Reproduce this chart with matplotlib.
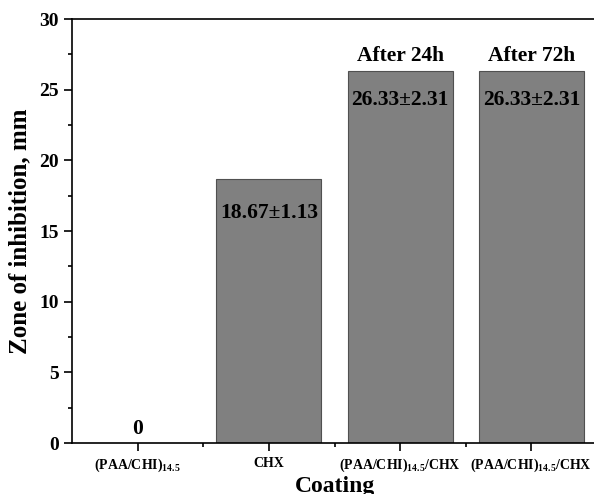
import matplotlib.pyplot as plt
import numpy as np

plt.rcParams['font.family'] = 'Liberation Serif'
plt.rcParams['font.weight'] = 'bold'
plt.rcParams['mathtext.fontset'] = 'custom'
plt.rcParams['mathtext.rm'] = 'Liberation Serif:bold'
plt.rcParams['mathtext.it'] = 'Liberation Serif:bold'
plt.rcParams['mathtext.bf'] = 'Liberation Serif:bold'

# Data
categories = [r'(PAA/CHI)$_{14.5}$', 'CHX',
              r'(PAA/CHI)$_{14.5}$/CHX', r'(PAA/CHI)$_{14.5}$/CHX']
values = [0, 18.67, 26.33, 26.33]
value_labels = ['0', '18.67\u00b11.13', '26.33\u00b12.31', '26.33\u00b12.31']
headers = ['', '', 'After 24h', 'After 72h']

fig = plt.figure(figsize=(5.94, 4.94), dpi=100)
ax = fig.add_axes([72 / 594, 51 / 494, 525 / 594, 424 / 494])

x = np.arange(len(values))
ax.bar(x, values, width=0.8, color='#808080', edgecolor='#505050', linewidth=0.8)

# Value labels
for i, (v, lab) in enumerate(zip(values, value_labels)):
    if v == 0:
        ax.text(i, 0.25, lab, ha='center', va='bottom', fontsize=15.5, fontweight='bold')
    elif i == 1:
        ax.text(i, 16.3, lab, ha='center', va='center', fontsize=15.5, fontweight='bold')
    else:
        ax.text(i, 24.3, lab, ha='center', va='center', fontsize=15.5, fontweight='bold')
    if headers[i]:
        ax.text(i, v + 0.35, headers[i], ha='center', va='bottom', fontsize=15.5, fontweight='bold')

ax.set_xlim(-0.5, 3.5)
ax.set_ylim(0, 30)
ax.set_xticks(x)
ax.set_xticklabels(categories)
ax.set_xticks([0.5, 1.5, 2.5], minor=True)
ax.set_yticks(np.arange(0, 31, 5))
ax.set_yticks(np.arange(2.5, 30, 5), minor=True)
ax.tick_params(axis='both', which='major', direction='out', length=6, width=1.2, labelsize=14)
ax.tick_params(axis='x', which='major', labelsize=10, pad=4)
ax.tick_params(axis='both', which='minor', direction='out', length=3, width=1.2)
ax.spines['right'].set_visible(False)
for s in ['left', 'bottom', 'top']:
    ax.spines[s].set_linewidth(1.2)

ax.set_xlabel('Coating', fontsize=17, fontweight='bold', labelpad=1)
ax.set_ylabel('Zone of inhibition, mm', fontsize=18, fontweight='bold', labelpad=6)

fig.savefig('out.png', dpi=100)
